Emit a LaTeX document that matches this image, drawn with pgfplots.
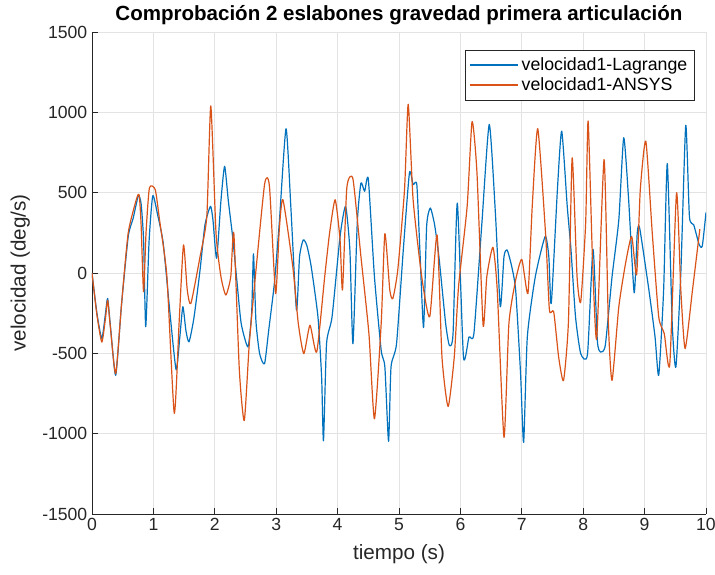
\documentclass[border=0pt]{standalone}
\usepackage{pgfplots}
\pgfplotsset{compat=1.18}
\usepackage{fontspec}
\setmainfont{Liberation Sans}
\definecolor{mblue}{rgb}{0,0.447,0.741}
\definecolor{morange}{rgb}{0.85,0.325,0.098}
\definecolor{axgray}{rgb}{0.15,0.15,0.15}
\begin{document}
\begin{tikzpicture}
\begin{axis}[
  scale only axis,
  width=460.5pt, height=361.5pt,
  xmin=0, xmax=10, ymin=-1500, ymax=1500,
  xtick={0,1,...,10},
  ytick={-1500,-1000,...,1500},
  axis lines*=left,
  axis line style={axgray, line width=0.6pt},
  tick align=inside,
  major tick length=4.5pt,
  tick style={axgray, line width=0.6pt},
  grid=major,
  grid style={gray!22, line width=0.5pt},
  ticklabel style={font=\fontsize{13.2}{15}\selectfont, text=axgray},
  /pgf/number format/assume math mode=true,
  /pgf/number format/1000 sep={},
  every axis title shift=0pt,
  title={\bfseries Comprobación 2 eslabones gravedad primera articulación},
  title style={font=\fontsize{15.4}{17}\selectfont, at={(axis description cs:0.5,1.034)}, anchor=center},
  xlabel={tiempo (s)}, ylabel={velocidad (deg/s)},
  label style={font=\fontsize{15.5}{17}\selectfont, text=axgray},
  xlabel style={at={(axis description cs:0.5,-0.083)}, anchor=center},
  ylabel style={at={(axis description cs:-0.117,0.5)}, anchor=center},
  legend style={at={(rel axis cs:0.982,0.963)}, anchor=north east,
    draw=axgray, line width=0.5pt, font=\fontsize{13.3}{16}\selectfont,
    inner sep=3.5pt, row sep=0pt},
  legend cell align=left,
  legend image code/.code={\draw[#1, line width=0.9pt] (0pt,0pt) -- (36pt,0pt);},
  every axis plot/.append style={line width=0.9pt, line join=round, smooth, tension=0.35},
]
\coordinate (bl) at (rel axis cs:0,0);
\coordinate (tr) at (rel axis cs:1,1);
\addplot[mblue] coordinates {
(0,0) (0.08,-250) (0.16,-408) (0.22,-250) (0.255,-158) (0.30,-330) (0.386,-637)
(0.48,-200) (0.59,227) (0.67,340) (0.755,481) (0.80,430) (0.84,206) (0.875,-335)
(0.93,200) (0.99,481) (1.07,360) (1.16,185) (1.27,-250) (1.37,-602) (1.43,-400)
(1.48,-210) (1.53,-360) (1.58,-429) (1.66,-280) (1.76,19) (1.84,300) (1.93,415)
(1.97,330) (2.03,92) (2.10,450) (2.16,664) (2.22,450) (2.29,227) (2.36,-50)
(2.43,-315) (2.54,-460) (2.60,-250) (2.63,119) (2.67,-300) (2.73,-502) (2.81,-565)
(2.88,-350) (2.97,-65) (3.05,310) (3.16,898) (3.24,400) (3.33,-231) (3.38,100)
(3.44,206) (3.50,170) (3.57,40) (3.68,-273) (3.74,-650) (3.77,-1044) (3.82,-440)
(3.91,-273) (4.04,227) (4.13,415) (4.20,144) (4.25,-440) (4.32,310) (4.38,560)
(4.44,508) (4.50,585) (4.60,-23) (4.71,-481) (4.77,-585) (4.83,-1048) (4.87,-585)
(4.96,-440) (5.07,144) (5.17,623) (5.23,550) (5.29,550) (5.34,144) (5.40,-340)
(5.45,290) (5.51,404) (5.58,300) (5.65,102) (5.76,-315) (5.82,-450) (5.88,-380)
(5.95,435) (6.05,-523) (6.14,-398) (6.22,-377) (6.35,310) (6.47,925) (6.57,373)
(6.65,-210) (6.71,102) (6.76,144) (6.83,50) (6.90,-106) (6.98,-627) (7.03,-1054)
(7.09,-398) (7.22,-23) (7.38,227) (7.44,102) (7.48,-190) (7.58,519) (7.65,883)
(7.74,415) (7.80,150) (7.875,-273) (7.96,-502) (8.07,-506) (8.16,148) (8.23,-419)
(8.28,-492) (8.36,-450) (8.47,-23) (8.58,331) (8.66,842) (8.74,456) (8.83,-123)
(8.88,248) (8.92,279) (9.07,-106) (9.17,-398) (9.23,-637) (9.31,-106) (9.37,681)
(9.45,-315) (9.51,-585) (9.59,0) (9.67,919) (9.73,352) (9.80,300) (9.89,175)
(9.94,169) (10.0,377)
};
\addlegendentry{velocidad1-Lagrange}
\addplot[morange] coordinates {
(0,0) (0.08,-260) (0.16,-430) (0.22,-280) (0.255,-170) (0.30,-340) (0.386,-627)
(0.48,-200) (0.59,250) (0.73,467) (0.77,481) (0.80,300) (0.84,-117) (0.88,250)
(0.935,529) (1.03,519) (1.10,330) (1.22,-23) (1.34,-873) (1.42,-300) (1.49,175)
(1.55,-100) (1.61,-190) (1.76,102) (1.87,352) (1.935,1040) (2.02,248) (2.10,-23)
(2.18,-137) (2.26,-23) (2.31,248) (2.40,-606) (2.48,-919) (2.56,-450) (2.64,-106)
(2.81,550) (2.89,540) (2.99,-127) (3.05,269) (3.11,456) (3.27,40) (3.36,-315)
(3.45,-502) (3.55,-325) (3.66,-492) (3.79,-23) (3.87,250) (3.96,456) (4.04,206)
(4.08,-106) (4.15,529) (4.25,585) (4.38,102) (4.51,-377) (4.60,-908) (4.71,-315)
(4.77,244) (4.85,-106) (4.90,-158) (4.98,19) (5.09,519) (5.15,1050) (5.23,456)
(5.37,-23) (5.50,-273) (5.62,237) (5.70,-523) (5.80,-831) (5.90,-523) (5.97,-85)
(6.11,415) (6.19,942) (6.27,623) (6.37,-325) (6.43,-23) (6.53,160) (6.60,-106)
(6.71,-1023) (6.79,-315) (6.90,-44) (7.00,85) (7.10,-127) (7.17,415) (7.26,898)
(7.39,227) (7.45,-231) (7.52,-242) (7.60,-523) (7.68,-669) (7.76,-300) (7.82,717)
(7.90,-23) (7.96,-179) (8.04,310) (8.08,946) (8.15,102) (8.22,-408) (8.34,706)
(8.41,-315) (8.47,-669) (8.58,-210) (8.69,60) (8.79,227) (8.87,-12) (8.93,519)
(9.02,821) (9.125,248) (9.23,-273) (9.32,-377) (9.41,-569) (9.52,498) (9.59,-106)
(9.66,-471) (9.78,-106) (9.90,273)
};
\addlegendentry{velocidad1-ANSYS}
\end{axis}
\pgfresetboundingbox
\path ([shift={(-69pt,-45.75pt)}]bl) rectangle ([shift={(6.75pt,24pt)}]tr);
\end{tikzpicture}
\end{document}
